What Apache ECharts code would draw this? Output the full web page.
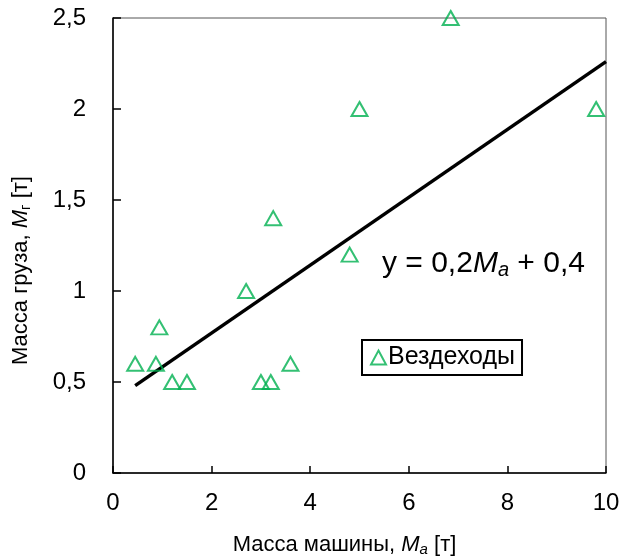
<!DOCTYPE html>
<html>
<head>
<meta charset="utf-8">
<script src="https://cdn.jsdelivr.net/npm/echarts@6/dist/echarts.min.js"></script>
<style>
  html, body { margin: 0; padding: 0; background: #fff; }
  #chart { width: 620px; height: 557px; }
</style>
</head>
<body>
<div id="chart"></div>
<script>
(function() {
  var font = '"Liberation Sans", Arial, sans-serif';
  var green = '#00B050';

  // points: vehicle mass (t) vs cargo mass (t)
  var massCar = [0.45, 0.87, 0.94, 1.2, 1.5, 2.7, 3.0, 3.2, 3.25, 3.6, 4.8, 5.0, 6.85, 9.8];
  var massCargo = [0.6, 0.6, 0.8, 0.5, 0.5, 1.0, 0.5, 0.5, 1.4, 0.6, 1.2, 2.0, 2.5, 2.0];

  // trend line endpoints
  var trendX = [0.45, 10];
  var trendY = [0.48, 2.26];

  var xTicks = ['0', '2', '4', '6', '8', '10'];
  var yTicks = ['0', '0,5', '1', '1,5', '2', '2,5'];

  var chart = echarts.init(document.getElementById('chart'), null, { renderer: 'canvas' });

  chart.setOption({
    animation: false,
    textStyle: { fontFamily: font },
    grid: {
      left: 113, right: 14, top: 18, bottom: 84,
      outerBoundsMode: 'none',
      show: true, borderColor: '#555', borderWidth: 1
    },
    xAxis: {
      type: 'value', min: 0, max: 10, interval: 2,
      axisLine: { show: true, lineStyle: { color: '#000', width: 1.5 } },
      axisTick: { show: true, inside: true, length: 7, lineStyle: { color: '#000', width: 1.5 } },
      splitLine: { show: false },
      axisLabel: {
        color: '#000', fontSize: 24, fontFamily: font, margin: 18,
        formatter: function(v) { return xTicks[Math.round(v / 2)]; }
      },
      name: 'Масса машины, {i|M}{s|a} [т]',
      nameLocation: 'middle',
      nameGap: 60,
      nameTextStyle: {
        color: '#000', fontSize: 22, fontFamily: font, padding: [0, 30, 0, 0],
        rich: {
          i: { fontStyle: 'italic', fontSize: 22, fontFamily: font, color: '#000' },
          s: { fontStyle: 'italic', fontSize: 15, fontFamily: font, color: '#000', padding: [9, 0, 0, 0] }
        }
      }
    },
    yAxis: {
      type: 'value', min: 0, max: 2.5, interval: 0.5,
      axisLine: { show: true, lineStyle: { color: '#000', width: 1.5 } },
      axisTick: { show: true, inside: true, length: 8, lineStyle: { color: '#000', width: 1.5 } },
      splitLine: { show: false },
      axisLabel: {
        color: '#000', fontSize: 24, fontFamily: font, margin: 27,
        formatter: function(v) { return yTicks[Math.round(v / 0.5)]; }
      },
      name: 'Масса груза, {i|M}{s|г} [т]',
      nameLocation: 'middle',
      nameRotate: 90,
      nameGap: 80,
      nameTextStyle: {
        color: '#000', fontSize: 22, fontFamily: font, padding: [0, 50, 0, 0],
        rich: {
          i: { fontStyle: 'italic', fontSize: 22, fontFamily: font, color: '#000' },
          s: { fontSize: 15, fontFamily: font, color: '#000', padding: [9, 0, 0, 0] }
        }
      }
    },
    legend: {
      data: ['Вездеходы'],
      left: 362, top: 340,
      orient: 'vertical',
      borderColor: '#000', borderWidth: 2, borderRadius: 0,
      padding: [5, 7, 5, 8],
      itemWidth: 15, itemHeight: 14, itemGap: 4,
      textStyle: { color: '#000', fontSize: 25, fontFamily: font, padding: [0, 0, 0, -3] }
    },
    graphic: [{
      type: 'text',
      left: 382, top: 249,
      style: {
        text: 'y = 0,2{i|M}{s|a} + 0,4',
        fill: '#000', fontSize: 30, fontFamily: font,
        rich: {
          i: { fontStyle: 'italic', fontSize: 30, fontFamily: font, fill: '#000' },
          s: { fontStyle: 'italic', fontSize: 20, fontFamily: font, fill: '#000', padding: [13, 0, 0, 0] }
        }
      }
    }],
    series: [{
      name: 'trend',
      type: 'line',
      data: trendX.map(function(x, i) { return [x, trendY[i]]; }),
      symbol: 'none',
      lineStyle: { color: '#000', width: 3.5 },
      z: 2
    }, {
      name: 'Вездеходы',
      type: 'scatter',
      data: massCar.map(function(x, i) { return [x, massCargo[i]]; }),
      symbol: 'triangle',
      symbolSize: [16, 14],
      itemStyle: { color: 'rgba(0,0,0,0)', borderColor: green, borderWidth: 2 },
      z: 3
    }]
  });

  window.addEventListener('resize', function() { chart.resize(); });
})();
</script>
</body>
</html>
